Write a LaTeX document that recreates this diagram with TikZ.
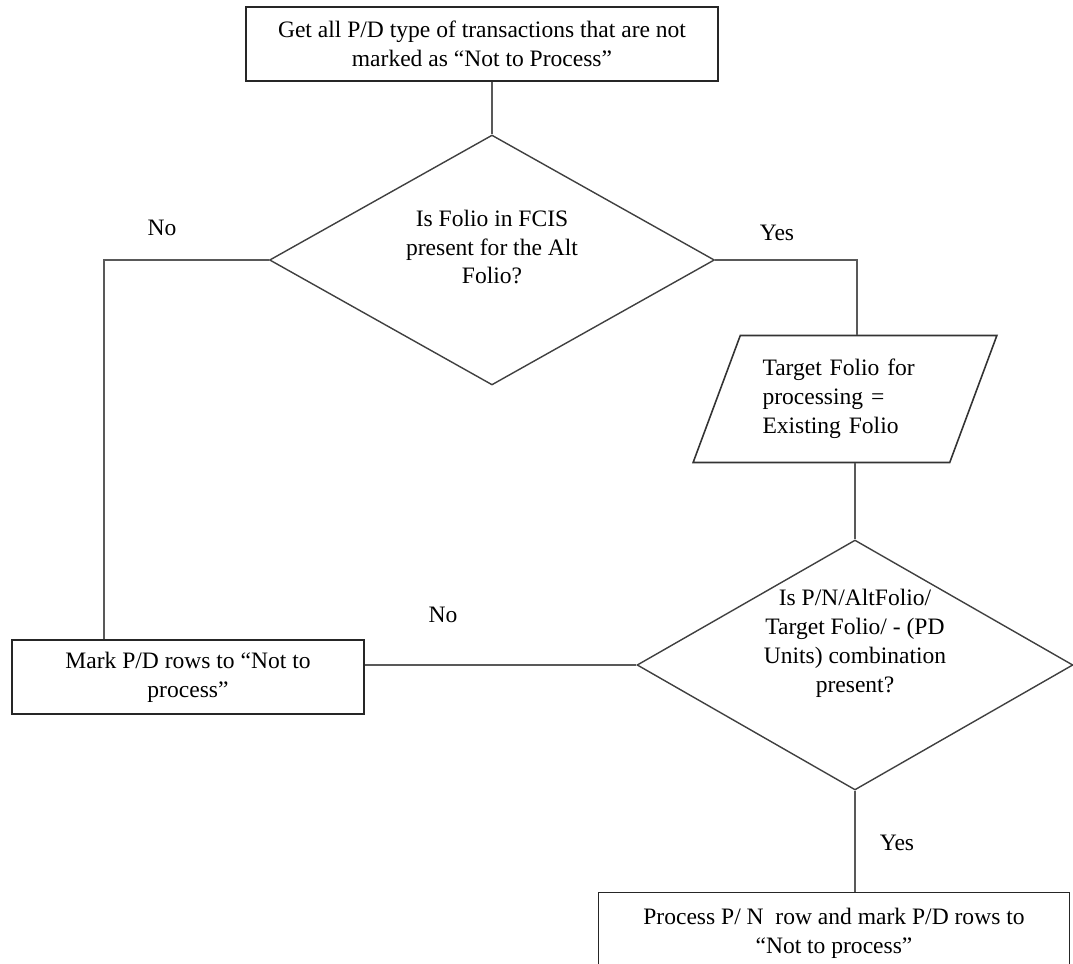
\documentclass[tikz,border=0pt]{standalone}
\usepackage{fontspec}
\setmainfont{Liberation Serif}
\usetikzlibrary{shapes.geometric}

\begin{document}
\begin{tikzpicture}[x=0.02cm,y=-0.02cm,font=\fontsize{13.4}{16.5}\selectfont]
\tikzstyle{block}=[rectangle,draw=black!85,line width=0.9pt,align=center,inner sep=0pt]
\tikzstyle{decision}=[diamond,draw=black!75,line width=0.8pt,inner sep=0pt,minimum width=8.9cm,minimum height=5cm]
\tikzstyle{io}=[trapezium,trapezium left angle=65,trapezium right angle=115,trapezium stretches=true,draw=black!80,line width=0.9pt,minimum width=6.08cm,minimum height=2.54cm,text width=3.3cm,align=left,inner sep=0pt]
\tikzstyle{line}=[draw=black!65,line width=1.2pt]
\useasboundingbox (0,0) rectangle (1073,964);
\node[block,minimum width=9.44cm,minimum height=1.48cm] (get) at (482,44) {Get all P/D type of transactions that are not\\marked as “Not to Process”};
\node[decision] (q1) at (492,260) {};
\node (q1t) at (492,247) [align=center] {Is Folio in FCIS\\present for the Alt\\Folio?};
\node[io] (target) at (845,399) {Target Folio for\\processing =\\Existing Folio};
\node[decision,minimum width=8.72cm] (q2) at (855,665) {};
\node (q2t) at (855,643) [align=center] {Is P/N/AltFolio/\\Target Folio/ - (PD\\Units) combination\\present?};
\node[block,minimum width=7.04cm,minimum height=1.48cm] (mark) at (188,677) {Mark P/D rows to “Not to\\process”};
\node[block,minimum width=9.42cm,minimum height=1.62cm] (done) at (834,933) {Process P/ N\enspace row and mark P/D rows to\\“Not to process”};
\coordinate (cno) at (104,260);
\coordinate (cyes) at (857,260);
\node (no1) at (162,228) {No};
\node (yes1) at (777,233) {Yes};
\node (no2) at (443,615) {No};
\node (yes2) at (897,843) {Yes};
\draw[line] (get.south -| q1.north) -- (q1.north);
\draw[line] (q1.west) -- (cno) -- (cno |- mark.north);
\draw[line] (q1.east) -- (cyes) -- (cyes |- target.north);
\draw[line] (q2.north |- target.south) -- (q2.north);
\draw[line] (q2.west) -- (q2.west -| mark.east);
\draw[line] (q2.south) -- (q2.south |- done.north);
\end{tikzpicture}
\end{document}
